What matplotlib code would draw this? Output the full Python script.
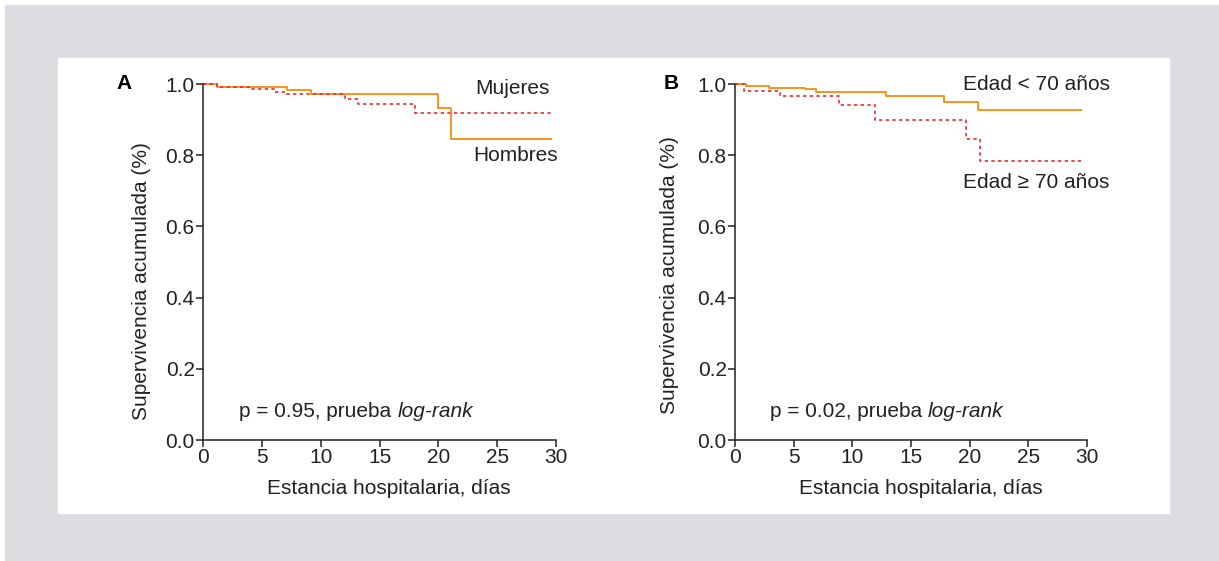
import numpy as np
import matplotlib
matplotlib.use("Agg")
import matplotlib.pyplot as plt
from matplotlib.patches import Rectangle

plt.rcParams['font.family'] = ['Liberation Sans', 'DejaVu Sans']

# panel A: sex
a_hombres_t = [0, 1.2, 7.1, 9.2, 20.0, 21.05, 29.6]
a_hombres_s = [1.0, 0.992, 0.982, 0.971, 0.932, 0.845, 0.845]
a_mujeres_t = [0, 1.2, 4.1, 6.0, 7.1, 12.1, 13.2, 18.0, 29.6]
a_mujeres_s = [1.0, 0.992, 0.986, 0.978, 0.972, 0.958, 0.945, 0.919, 0.919]

# panel B: age
b_menor_t = [0, 0.95, 2.9, 6.0, 6.9, 12.9, 17.8, 20.7, 29.5]
b_menor_s = [1.0, 0.994, 0.989, 0.985, 0.978, 0.966, 0.949, 0.927, 0.927]
b_mayor_t = [0, 0.8, 3.8, 8.9, 11.9, 19.7, 20.9, 29.5]
b_mayor_s = [1.0, 0.981, 0.967, 0.941, 0.899, 0.846, 0.783, 0.783]

xticks = [0, 5, 10, 15, 20, 25, 30]
yticks = [0.0, 0.2, 0.4, 0.6, 0.8, 1.0]

orange = "#f7941d"
red = "#ee2a2a"
ink = "#222222"
fs = 15

fig = plt.figure(figsize=(12.19, 5.61), dpi=100)
fig.patches.append(Rectangle((5/1219, 0), 1, 1 - 5/561, transform=fig.transFigure,
                             color="#dcdde0", zorder=-10))
fig.patches.append(Rectangle((58/1219, 1 - 513/561), (1169-58)/1219, (513-58)/561,
                             transform=fig.transFigure, color="white", zorder=-9))

axA = fig.add_axes([203/1219, 1 - 440/561, 353/1219, 356/561])
axB = fig.add_axes([735/1219, 1 - 440/561, 352/1219, 356/561])

def style(ax, ylab_x, ylab_y):
    ax.patch.set_alpha(0)
    ax.set_xlim(0, 30)
    ax.set_ylim(0, 1.0)
    for s in ['top', 'right']:
        ax.spines[s].set_visible(False)
    for s in ['left', 'bottom']:
        ax.spines[s].set_linewidth(1.1)
        ax.spines[s].set_color(ink)
    ax.set_xticks(xticks)
    ax.set_yticks(yticks)
    ax.set_yticklabels([f"{v:.1f}" for v in yticks])
    ax.tick_params(labelsize=fs, length=5, width=1.1, color=ink, labelcolor=ink, pad=1)
    ax.set_xlabel("Estancia hospitalaria, días", fontsize=fs, color=ink)
    ax.set_ylabel("Supervivencia acumulada (%)", fontsize=fs, color=ink)
    ax.xaxis.set_label_coords(0.527, -0.11)
    ax.yaxis.set_label_coords(ylab_x, ylab_y)

def ptext(ax, x, y, s):
    t = ax.text(x, y, s, fontsize=fs, va='center', color=ink)
    ax.annotate("log-rank", xy=(1, 0), xycoords=t, va='bottom', ha='left',
                fontsize=fs, fontstyle='italic', color=ink)

style(axA, -0.148, 0.447)
style(axB, -0.159, 0.463)

axA.step(a_hombres_t, a_hombres_s, where='post', color=orange, lw=1.4, clip_on=False)
axA.step(a_mujeres_t, a_mujeres_s, where='post', color=red, lw=1.2, ls=(0, (2, 2)), clip_on=False)
axA.text(26.3, 0.986, "Mujeres", fontsize=fs, ha='center', va='center', color=ink)
axA.text(26.6, 0.798, "Hombres", fontsize=fs, ha='center', va='center', color=ink)
ptext(axA, 3.1, 0.079, "p = 0.95, prueba ")

axB.step(b_menor_t, b_menor_s, where='post', color=orange, lw=1.4, clip_on=False)
axB.step(b_mayor_t, b_mayor_s, where='post', color=red, lw=1.2, ls=(0, (2, 2)), clip_on=False)
axB.text(25.7, 1.0, "Edad < 70 años", fontsize=fs, ha='center', va='center', color=ink)
axB.text(25.7, 0.722, "Edad ≥ 70 años", fontsize=fs, ha='center', va='center', color=ink)
ptext(axB, 3.0, 0.079, "p = 0.02, prueba ")

fig.text(124/1219, 1 - 84/561, "A", fontsize=fs, fontweight='bold', ha='center', va='center')
fig.text(671/1219, 1 - 84/561, "B", fontsize=fs, fontweight='bold', ha='center', va='center')

fig.savefig("out.png", dpi=100)
